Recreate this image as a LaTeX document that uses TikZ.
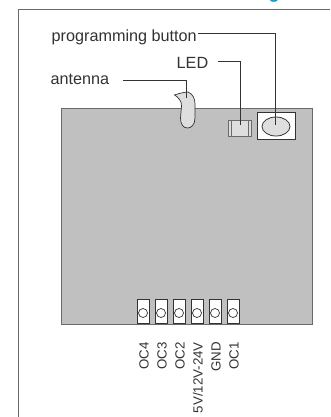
\documentclass[tikz,border=0pt]{standalone}
\usepackage{fontspec}
\usetikzlibrary{shapes.geometric}
\setmainfont{Liberation Sans}
\definecolor{board}{HTML}{C0C0C0}
\definecolor{edge}{HTML}{6A6A6A}
\definecolor{part}{HTML}{DEDEDE}
\definecolor{ink}{HTML}{333333}
\definecolor{teal}{HTML}{1597B5}
\tikzset{
  lab/.style={font=\fontsize{16.2}{18}\selectfont,text=ink,inner sep=0pt},
  pinlab/.style={font=\fontsize{13.3}{15}\selectfont,text=ink,inner sep=0pt,rotate=90,anchor=base east},
  leader/.style={draw=ink,line width=0.8pt},
  pinbox/.style={draw=ink,fill=white,line width=0.8pt,minimum width=12pt,minimum height=24pt,inner sep=0pt},
  pinhole/.style={draw=ink,fill=white,line width=0.7pt,circle,minimum size=9pt,inner sep=0pt}
}
\begin{document}
\begin{tikzpicture}[x=1pt,y=-1pt]
\useasboundingbox (0,0) rectangle (330,417);
\fill[white] (0,0) rectangle (330,417);
\begin{scope}
\clip (0,0) rectangle (330,417);
\node[font=\bfseries\fontsize{18}{18}\selectfont,text=teal,inner sep=0pt,anchor=base] (head) at (274,-1) {g};
\draw[edge,line width=0.9pt] (330,9) -- (18.5,9) -- (18.5,417);
\end{scope}
\node[draw=edge,fill=board,line width=1pt,minimum width=251.5pt,minimum height=215pt,inner sep=0pt,anchor=north west] (pcb) at (60.5,108.5) {};
% antenna
\draw[draw=ink,fill=part,line width=0.7pt] (174.5,95) .. controls (180,93) and (186,92) .. (188,92) .. controls (193,94) and (195,99) .. (195,104) -- (195,118) .. controls (195,125) and (191,128) .. (187.5,128) .. controls (183,128) and (180.5,124) .. (180.5,118) -- (181.5,106) .. controls (182,101) and (178,97) .. (174.5,95) -- cycle;
% LED
\node[draw=edge,fill=part,line width=1pt,minimum width=23pt,minimum height=16pt,inner sep=0pt] (led) at (239.5,128) {};
\draw[edge,line width=0.8pt] (231,120) -- (231,136) (248,120) -- (248,136);
% button
\node[draw=ink,fill=white,line width=0.9pt,minimum width=38pt,minimum height=27pt,inner sep=0pt] (btnbox) at (276,125.5) {};
\node[draw=ink,fill=part,line width=0.8pt,ellipse,minimum width=28pt,minimum height=19pt,inner sep=0pt] (btn) at (276,126.5) {};
% pins
\foreach \n/\x in {a/143,b/161,c/179,d/197,e/215,f/233}{
  \node[pinbox,anchor=south] (box\n) at (\x,324) {};
  \node[pinhole] (hole\n) at (\x,313) {};
}
\node[pinlab] (l1) at (148.5,342) {OC4};
\node[pinlab] (l2) at (166.5,342) {OC3};
\node[pinlab] (l3) at (184.5,342) {OC2};
\node[pinlab] (l4) at (202.5,342) {5V/12V-24V};
\node[pinlab] (l5) at (220.5,342) {GND};
\node[pinlab] (l6) at (238.5,342) {OC1};
% labels
\node[lab,anchor=base west] (lp) at (51.5,41.5) {programming button};
\node[lab,anchor=base west] (ll) at (176.5,69) {LED};
\node[lab,anchor=base west] (la) at (50.5,85) {antenna};
\coordinate (pc) at (275.5,33.5);
\coordinate (lc) at (240.5,61.5);
\coordinate (ac) at (186.5,80.5);
\coordinate (lps) at (198,33.5);
\coordinate (lls) at (218,61.5);
\coordinate (las) at (123,80.5);
\coordinate (pe) at (275.5,125);
\coordinate (le) at (240.5,125);
\coordinate (ae) at (186.5,98);
\draw[leader] (lps) -- (pc) -- (pe);
\draw[leader] (lls) -- (lc) -- (le);
\draw[leader] (las) -- (ac) -- (ae);
\end{tikzpicture}
\end{document}
